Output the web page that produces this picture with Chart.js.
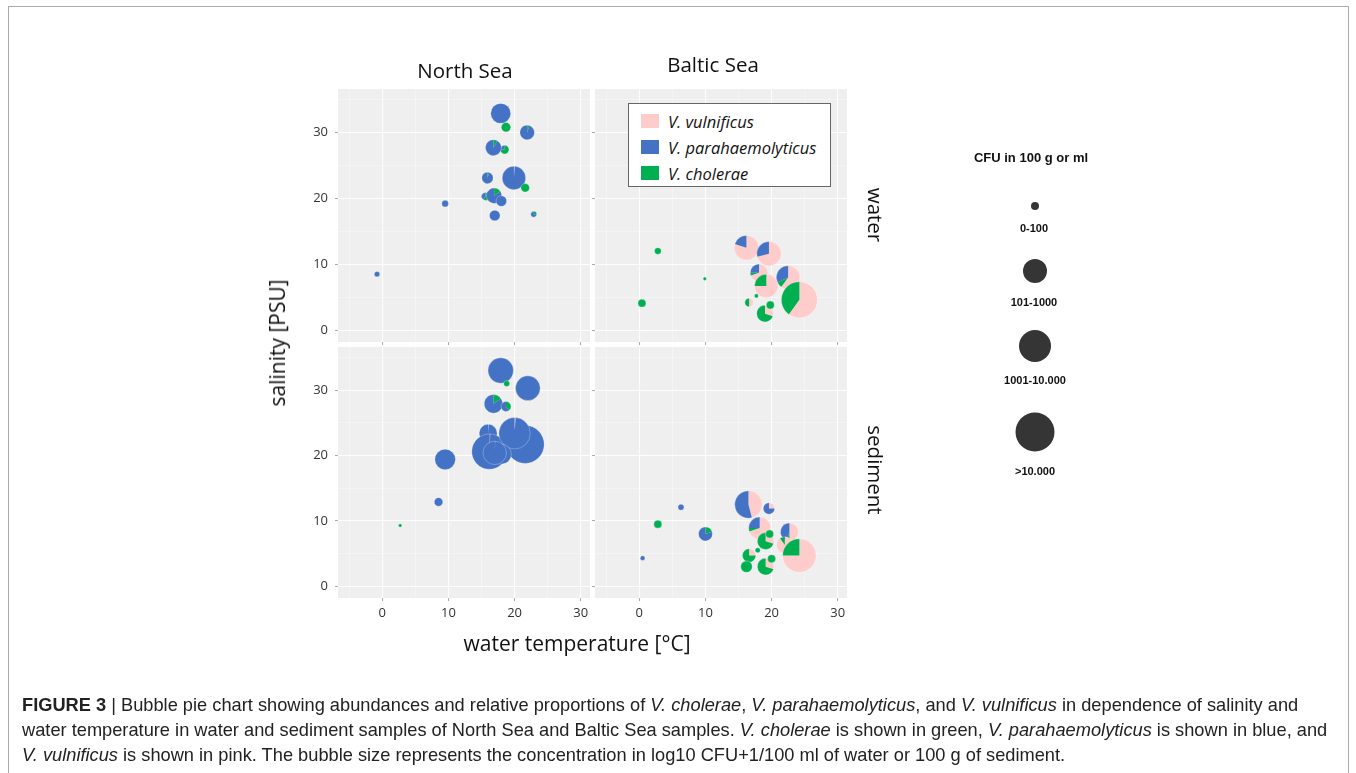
<!DOCTYPE html>
<html>
<head>
<meta charset="utf-8">
<script src="https://cdn.jsdelivr.net/npm/chart.js@4.4.1/dist/chart.umd.min.js"></script>
<style>
html,body{margin:0;padding:0;background:#fff;}
body{width:1356px;height:773px;position:relative;overflow:hidden;font-family:"Open Sans",sans-serif;color:#111;}
canvas.panel{position:absolute;left:0;top:0;}
.abs{position:absolute;white-space:nowrap;}
#frame{position:absolute;left:8px;top:6px;width:1339px;height:820px;border:1px solid #aaa;}
.strip{font-size:20.5px;color:#111;transform:translate(-50%,-50%);}
.vstrip{font-size:20.5px;color:#111;transform:translate(-50%,-50%) rotate(90deg);}
.ytitle{font-size:21px;color:#111;transform:translate(-50%,-50%) rotate(-90deg);}
.xtitle{font-size:21px;color:#111;transform:translate(-50%,-50%);}
#spLegend{position:absolute;left:628px;top:103px;width:201px;height:82px;border:1px solid #666;background:#fff;}
.sw{position:absolute;left:12px;width:18px;height:14px;}
.spt{position:absolute;left:39px;font-style:italic;font-size:16.5px;color:#111;transform:translateY(-50%);}
.szt{font-family:"Liberation Sans",Arial,sans-serif;font-weight:bold;color:#111;transform:translate(-50%,-50%);}
.dot{position:absolute;border-radius:50%;background:#353535;transform:translate(-50%,-50%);}
#caption{position:absolute;left:22px;top:692px;font-family:"Liberation Sans",Arial,sans-serif;font-size:19px;line-height:25px;color:#222;white-space:nowrap;transform:scaleX(0.96);transform-origin:0 0;}
</style>
</head>
<body>
<div id="frame"></div>
<canvas id="pTL" class="panel" width="1356" height="773"></canvas>
<canvas id="pTR" class="panel" width="1356" height="773"></canvas>
<canvas id="pBL" class="panel" width="1356" height="773"></canvas>
<canvas id="pBR" class="panel" width="1356" height="773"></canvas>

<div class="abs strip" style="left:465px;top:70px;">North Sea</div>
<div class="abs strip" style="left:713px;top:64px;">Baltic Sea</div>
<div class="abs vstrip" style="left:876px;top:215px;">water</div>
<div class="abs vstrip" style="left:876px;top:470px;">sediment</div>
<div class="abs ytitle" style="left:277px;top:343px;">salinity [PSU]</div>
<div class="abs xtitle" style="left:577px;top:643px;">water temperature [°C]</div>

<div id="spLegend">
  <div class="sw" style="top:10px;background:#FFCCCC;"></div><div class="spt" style="top:17px;">V. vulnificus</div>
  <div class="sw" style="top:36px;background:#4472C4;"></div><div class="spt" style="top:43px;">V. parahaemolyticus</div>
  <div class="sw" style="top:62px;background:#00B050;"></div><div class="spt" style="top:69px;">V. cholerae</div>
</div>

<div class="abs szt" style="left:1031px;top:157px;font-size:13px;">CFU in 100 g or ml</div>
<div class="dot" style="left:1035px;top:206px;width:8px;height:8px;"></div>
<div class="abs szt" style="left:1034px;top:228px;font-size:11px;">0-100</div>
<div class="dot" style="left:1035px;top:271px;width:24px;height:24px;"></div>
<div class="abs szt" style="left:1034px;top:302px;font-size:11px;">101-1000</div>
<div class="dot" style="left:1035px;top:346px;width:32px;height:32px;"></div>
<div class="abs szt" style="left:1035px;top:380px;font-size:11px;">1001-10.000</div>
<div class="dot" style="left:1035px;top:432px;width:39px;height:39px;"></div>
<div class="abs szt" style="left:1035px;top:471px;font-size:11px;">&gt;10.000</div>

<div id="caption"><b>FIGURE 3</b> | Bubble pie chart showing abundances and relative proportions of <i>V. cholerae</i>, <i>V. parahaemolyticus</i>, and <i>V. vulnificus</i> in dependence of salinity and<br>water temperature in water and sediment samples of North Sea and Baltic Sea samples. <i>V. cholerae</i> is shown in green, <i>V. parahaemolyticus</i> is shown in blue, and<br><i>V. vulnificus</i> is shown in pink. The bubble size represents the concentration in log10 CFU+1/100 ml of water or 100 g of sediment.</div>

<script>
// ---------- axis ticks ----------
const X_MAJOR = [0, 10, 20, 30];
const X_MINOR = [-5, 5, 15, 25];
const X_TICK_LABELS = ['0', '10', '20', '30'];
const Y_MAJOR = [0, 10, 20, 30];
const Y_MINOR = [5, 15, 25, 35];
const Y_TICK_LABELS = ['0', '10', '20', '30'];

// ---------- North Sea, water ----------
const nsWaterTemp = [-0.8, 9.5, 17.9, 18.7, 21.9, 18.5, 16.8, 15.9, 19.9, 21.6, 15.6, 16.9, 18.0, 17.0, 22.9];
const nsWaterSal  = [8.5, 19.2, 32.9, 30.8, 30.0, 27.4, 27.7, 23.1, 23.1, 21.6, 20.3, 20.4, 19.6, 17.4, 17.6];
const nsWaterLog  = [0.64, 0.79, 2.38, 1.12, 1.74, 1.02, 1.9, 1.36, 2.79, 1.02, 0.95, 1.83, 1.26, 1.26, 0.71];
const nsWaterVv   = [0, 0, 0, 0, 0, 0, 0, 0, 0.01, 0, 0, 0, 0, 0, 0];
const nsWaterVp   = [1, 1, 1, 0, 0.95, 0.25, 0.92, 0.95, 0.99, 0, 0.4, 0.85, 1, 1, 0.7];
const nsWaterVc   = [0, 0, 0, 1, 0.05, 0.75, 0.08, 0.05, 0, 1, 0.6, 0.15, 0, 0, 0.3];

// ---------- Baltic Sea, water ----------
const bsWaterTemp = [2.8, 9.9, 0.4, 16.2, 19.6, 18.1, 22.5, 19.2, 24.2, 16.6, 17.7, 19.0, 19.8];
const bsWaterSal  = [12.0, 7.8, 4.1, 12.5, 11.6, 8.7, 8.0, 6.7, 4.6, 4.2, 5.2, 2.5, 3.8];
const bsWaterLog  = [0.79, 0.4, 0.95, 2.93, 2.9, 2.1, 2.81, 2.79, 4.29, 1.02, 0.48, 1.98, 0.95];
const bsWaterVv   = [0, 0, 0, 0.8, 0.71, 0.7, 0.6, 0.75, 0.6, 0.5, 0, 0.3, 0];
const bsWaterVp   = [0, 0, 0, 0.2, 0.29, 0.25, 0.32, 0, 0, 0, 0, 0, 0];
const bsWaterVc   = [1, 1, 1, 0, 0, 0.05, 0.08, 0.25, 0.4, 0.5, 1, 0.7, 1];

// ---------- North Sea, sediment ----------
const nsSedTemp = [2.7, 8.5, 9.5, 17.9, 18.8, 22.0, 16.8, 18.7, 21.6, 16.0, 16.2, 20.0, 18.0, 17.0];
const nsSedSal  = [9.3, 12.9, 19.4, 33.0, 31.0, 30.3, 27.9, 27.5, 21.7, 23.4, 20.6, 23.4, 20.2, 20.4];
const nsSedLog  = [0.4, 1.02, 2.45, 3.02, 0.71, 2.93, 2.21, 1.19, 4.52, 2.14, 4.21, 3.74, 2.38, 2.79];
const nsSedVv   = [0, 0, 0, 0, 0, 0, 0, 0, 0, 0.01, 0.01, 0.01, 0, 0.01];
const nsSedVp   = [0, 1, 1, 1, 0, 1, 0.85, 0.6, 1, 0.99, 0.99, 0.99, 1, 0.99];
const nsSedVc   = [1, 0, 0, 0, 1, 0, 0.15, 0.4, 0, 0, 0, 0, 0, 0];

// ---------- Baltic Sea, sediment ----------
const bsSedTemp = [0.5, 2.8, 6.3, 10.0, 16.5, 19.6, 18.2, 22.7, 22.0, 24.2, 19.1, 19.7, 16.6, 16.2, 17.9, 19.1, 20.0];
const bsSedSal  = [4.3, 9.5, 12.1, 8.0, 12.5, 11.9, 8.9, 8.3, 6.3, 4.7, 6.9, 8.0, 4.7, 3.0, 5.5, 3.0, 4.2];
const bsSedLog  = [0.55, 0.95, 0.71, 1.67, 3.26, 1.36, 2.62, 2.14, 1.98, 3.98, 1.98, 0.95, 1.6, 1.36, 0.6, 1.98, 0.95];
const bsSedVv   = [0, 0, 0, 0, 0.46, 0.25, 0.7, 0.5, 0.9, 0.75, 0.3, 0, 0.25, 0, 0, 0.3, 0];
const bsSedVp   = [1, 0, 1, 0.8, 0.54, 0.75, 0.25, 0.45, 0, 0, 0, 0, 0, 0, 0, 0, 0];
const bsSedVc   = [0, 1, 0, 0.2, 0, 0, 0.05, 0.05, 0.1, 0.25, 0.7, 1, 0.75, 1, 1, 0.7, 1];

// ---------- styling ----------
const COL_VV = '#FFCCCC', COL_VP = '#4472C4', COL_VC = '#00B050';
const PANEL_BG = '#EFEFEF';
const SIZE_K = 4.2;           // px of radius per log10 unit
const X_MIN = -6.7, X_MAX = 31.4, Y_MIN = -1.8, Y_MAX = 36.6;
const W = 1356, H = 773, YW = 40, XH = 30;

function buildPoints(t, s, l, vv, vp, vc) {
  return t.map((x, i) => ({ x: x, y: s[i], r: l[i] * SIZE_K, vv: vv[i], vp: vp[i], vc: vc[i] }));
}

const piePlugin = {
  id: 'bubblePies',
  beforeDraw(chart) {
    const { ctx, chartArea: a } = chart;
    ctx.save();
    ctx.fillStyle = PANEL_BG;
    ctx.fillRect(a.left, a.top, a.right - a.left, a.bottom - a.top);
    ctx.restore();
  },
  afterDatasetsDraw(chart) {
    const { ctx, chartArea: a } = chart;
    const meta = chart.getDatasetMeta(0);
    const pts = chart.data.datasets[0].data;
    ctx.save();
    ctx.beginPath();
    ctx.rect(a.left, a.top, a.right - a.left, a.bottom - a.top);
    ctx.clip();
    meta.data.forEach((el, i) => {
      const p = pts[i];
      const r = (el.options && el.options.radius) || p.r;
      let a0 = -Math.PI / 2;
      [[p.vv, COL_VV], [p.vc, COL_VC], [p.vp, COL_VP]].forEach(([f, col]) => {
        if (!f || f <= 0) return;
        const a1 = a0 + f * Math.PI * 2;
        ctx.beginPath();
        if (f < 0.9999) ctx.moveTo(el.x, el.y);
        ctx.arc(el.x, el.y, r, a0, a1);
        ctx.closePath();
        ctx.fillStyle = col;
        ctx.fill();
        a0 = a1;
      });
      ctx.beginPath();
      ctx.arc(el.x, el.y, r, 0, Math.PI * 2);
      ctx.strokeStyle = 'rgba(255,255,255,0.45)';
      ctx.lineWidth = 0.6;
      ctx.stroke();
    });
    ctx.restore();
  }
};

function makePanel(id, pts, rect, showX, showY) {
  const ctx = document.getElementById(id).getContext('2d');
  const gridColor = c => (X_MAJOR.includes(c.tick.value) ? 'rgba(255,255,255,0.85)' : 'rgba(255,255,255,0.55)');
  const tickCol = c => (X_MAJOR.includes(c.tick.value) ? '#a8a8a8' : 'rgba(0,0,0,0)');
  return new Chart(ctx, {
    type: 'bubble',
    data: { datasets: [{ data: pts, backgroundColor: 'rgba(0,0,0,0)', borderWidth: 0, hoverRadius: 0 }] },
    plugins: [piePlugin],
    options: {
      responsive: false,
      animation: false,
      events: [],
      devicePixelRatio: 1,
      layout: { padding: { left: rect.l - YW, right: W - rect.r, top: rect.t, bottom: H - rect.b - XH } },
      plugins: { legend: { display: false }, tooltip: { enabled: false } },
      scales: {
        x: {
          type: 'linear', min: X_MIN, max: X_MAX,
          afterBuildTicks: s => { s.ticks = X_MINOR.concat(X_MAJOR).sort((a, b) => a - b).map(v => ({ value: v })); },
          afterFit: s => { s.height = XH; },
          border: { display: false },
          grid: { color: gridColor, lineWidth: c => (X_MAJOR.includes(c.tick.value) ? 1.1 : 0.6), tickLength: 3, tickColor: tickCol, tickWidth: 1 },
          ticks: {
            display: showX, autoSkip: false, maxRotation: 0, padding: 4, color: '#333',
            font: { family: 'Open Sans', size: 13 },
            callback: v => { const k = X_MAJOR.indexOf(v); return k >= 0 ? X_TICK_LABELS[k] : ''; }
          }
        },
        y: {
          type: 'linear', min: Y_MIN, max: Y_MAX,
          afterBuildTicks: s => { s.ticks = Y_MINOR.concat(Y_MAJOR).sort((a, b) => a - b).map(v => ({ value: v })); },
          afterFit: s => { s.width = YW; },
          border: { display: false },
          grid: { color: gridColor, lineWidth: c => (Y_MAJOR.includes(c.tick.value) ? 1.1 : 0.6), tickLength: 3, tickColor: tickCol, tickWidth: 1 },
          ticks: {
            display: showY, autoSkip: false, padding: 7, color: '#333',
            font: { family: 'Open Sans', size: 13 },
            callback: v => { const k = Y_MAJOR.indexOf(v); return k >= 0 ? Y_TICK_LABELS[k] : ''; }
          }
        }
      }
    }
  });
}

makePanel('pTL', buildPoints(nsWaterTemp, nsWaterSal, nsWaterLog, nsWaterVv, nsWaterVp, nsWaterVc), { l: 338, r: 590, t: 89, b: 342 }, false, true);
makePanel('pTR', buildPoints(bsWaterTemp, bsWaterSal, bsWaterLog, bsWaterVv, bsWaterVp, bsWaterVc), { l: 595, r: 847, t: 89, b: 342 }, false, false);
makePanel('pBL', buildPoints(nsSedTemp, nsSedSal, nsSedLog, nsSedVv, nsSedVp, nsSedVc), { l: 338, r: 590, t: 347, b: 598 }, true, true);
makePanel('pBR', buildPoints(bsSedTemp, bsSedSal, bsSedLog, bsSedVv, bsSedVp, bsSedVc), { l: 595, r: 847, t: 347, b: 598 }, true, false);
</script>
</body>
</html>
